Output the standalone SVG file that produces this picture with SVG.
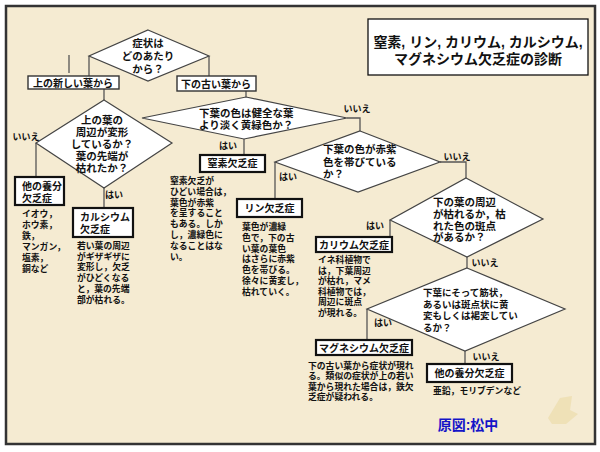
<svg xmlns="http://www.w3.org/2000/svg" width="600" height="452" viewBox="0 0 600 452">
<style>
text{font-family:"Liberation Sans","Noto Sans CJK JP",sans-serif;font-weight:700;fill:#111}
.d{fill:#fff;stroke:#444;stroke-width:1.2}
.q{font-size:10.5px}
.qs{font-size:9.5px}
.c{text-anchor:middle}
.b{fill:#fff;stroke:#111;stroke-width:2.2}
.b2{fill:#fff;stroke:#333;stroke-width:1.4}
.bl{font-size:10px}
.t{font-size:8.8px}
.y{font-size:9px}
.ln{fill:none;stroke:#555;stroke-width:1.3}
</style>
<rect x="0" y="0" width="600" height="452" fill="#fff"/>
<rect x="6" y="6" width="589" height="438" fill="#F5EBD2" stroke="#333" stroke-width="2.5"/>
<path d="M548 418 L560 398 L572 396 L570 410 L578 414 L566 424 L552 424 Z" fill="#E9D9A0" opacity="0.55"/>

<g id="connectors" class="ln">
<path d="M89 56 V76"/>
<path d="M69 55 V73"/>
<path d="M209 56 V76"/>
<path d="M104 89 V100"/>
<path d="M246 91 V97"/>
<path d="M36 143 V177"/>
<path d="M104 188 V208"/>
<path d="M244 139 V155"/>
<path d="M347 118 H360 V131"/>
<path d="M275 162 V199"/>
<path d="M440 162 H466 V178"/>
<path d="M390 220 V237"/>
<path d="M467 257 V268"/>
<path d="M367 309 V340"/>
<path d="M465 351 V364"/>
</g>

<g id="title">
<rect x="368" y="19" width="220" height="56" fill="#fff" stroke="#111" stroke-width="1.3"/>
<text class="c" x="478" y="47" font-size="14">窒素, リン, カリウム, カルシウム,<tspan x="478" y="64">マグネシウム欠乏症の診断</tspan></text>
</g>

<g id="q1">
<polygon class="d" points="148,30 209,56 148,81 89,56"/>
<text class="q c" x="148" y="47">症状は<tspan x="148" y="60">どのあたり</tspan><tspan x="148" y="73">から？</tspan></text>
</g>

<g id="upper">
<rect class="b2" x="28" y="76" width="91" height="13"/>
<text class="bl c" x="73" y="86.5">上の新しい葉から</text>
</g>

<g id="lower">
<rect class="b2" x="177" y="76" width="79" height="15"/>
<text class="bl c" x="216" y="87.5">下の古い葉から</text>
</g>

<g id="q2">
<polygon class="d" points="104,100 172,143 104,188 36,143"/>
<text class="q c" x="102" y="124">上の葉の<tspan x="102" y="136">周辺が変形</tspan><tspan x="102" y="148">しているか？</tspan><tspan x="102" y="160">葉の先端が</tspan><tspan x="102" y="172">枯れたか？</tspan></text>
<text class="y c" x="26" y="140">いいえ</text>
<text class="y c" x="114" y="198">はい</text>
</g>

<g id="other1">
<rect class="b" x="15" y="177" width="49" height="28"/>
<text class="bl" x="22" y="190">他の養分<tspan x="22" y="202">欠乏症</tspan></text>
<text class="t" x="22" y="217">イオウ，<tspan x="22" y="228">ホウ素，</tspan><tspan x="22" y="239">鉄，</tspan><tspan x="22" y="250">マンガン，</tspan><tspan x="22" y="261">塩素，</tspan><tspan x="22" y="272">銅など</tspan></text>
</g>

<g id="calcium">
<rect class="b" x="73" y="208" width="60" height="29"/>
<text class="bl" x="80" y="221">カルシウム<tspan x="80" y="233">欠乏症</tspan></text>
<text class="t" x="77" y="249">若い葉の周辺<tspan x="77" y="259.7">がギザギザに</tspan><tspan x="77" y="270.4">変形し，欠乏</tspan><tspan x="77" y="281.1">がひどくなる</tspan><tspan x="77" y="291.8">と，葉の先端</tspan><tspan x="77" y="302.5">部が枯れる。</tspan></text>
</g>

<g id="q3">
<polygon class="d" points="246,97 347,118 244,139 142,118"/>
<text class="q" x="199" y="117">下葉の色は健全な葉<tspan x="199" y="128.5">より淡く黄緑色か？</tspan></text>
<text class="y c" x="357" y="112">いいえ</text>
<text class="y c" x="228" y="149">はい</text>
</g>

<g id="nitrogen">
<rect class="b" x="200" y="155" width="65" height="17"/>
<text class="bl c" x="232.5" y="167">窒素欠乏症</text>
<text class="t" x="170" y="184">窒素欠乏が<tspan x="170" y="194.8">ひどい場合は，</tspan><tspan x="170" y="205.6">葉色が赤紫</tspan><tspan x="170" y="216.4">を呈すること</tspan><tspan x="170" y="227.2">もある。しか</tspan><tspan x="170" y="238">し，濃緑色に</tspan><tspan x="170" y="248.8">なることはな</tspan><tspan x="170" y="259.6">い。</tspan></text>
</g>

<g id="q4">
<polygon class="d" points="360,131 440,162 358,192 275,162"/>
<text class="q" x="323" y="153">下葉の色が赤紫<tspan x="323" y="166">色を帯びている</tspan><tspan x="323" y="178">か？</tspan></text>
<text class="y c" x="457" y="160">いいえ</text>
<text class="y c" x="288" y="180">はい</text>
</g>

<g id="phosphorus">
<rect class="b" x="237" y="199" width="65" height="18"/>
<text class="bl c" x="269.5" y="212">リン欠乏症</text>
<text class="t" x="242" y="230">葉色が濃緑<tspan x="242" y="240.8">色で，下の古</tspan><tspan x="242" y="251.6">い葉の葉色</tspan><tspan x="242" y="262.4">はさらに赤紫</tspan><tspan x="242" y="273.2">色を帯びる。</tspan><tspan x="242" y="284">徐々に黄変し，</tspan><tspan x="242" y="294.8">枯れていく。</tspan></text>
</g>

<g id="q5">
<polygon class="d" points="466,178 543,219 467,257 390,220"/>
<text class="q" x="433" y="206">下の葉の周辺<tspan x="433" y="217.8">が枯れるか，枯</tspan><tspan x="433" y="229.6">れた色の斑点</tspan><tspan x="433" y="241.4">があるか？</tspan></text>
<text class="y c" x="375" y="229">はい</text>
<text class="y c" x="485" y="266">いいえ</text>
</g>

<g id="potassium">
<rect class="b" x="316" y="237" width="76" height="15"/>
<text class="bl c" x="354" y="248.5">カリウム欠乏症</text>
<text class="t" x="318" y="263">イネ科植物で<tspan x="318" y="273.5">は，下葉周辺</tspan><tspan x="318" y="284">が枯れ，マメ</tspan><tspan x="318" y="294.5">科植物では，</tspan><tspan x="318" y="305">周辺に斑点</tspan><tspan x="318" y="315.5">が現れる。</tspan></text>
</g>

<g id="q6">
<polygon class="d" points="467,268 565,309 465,351 367,309"/>
<text class="qs" x="423" y="296">下葉にそって筋状，<tspan x="423" y="307.5">あるいは斑点状に黄</tspan><tspan x="423" y="319">変もしくは褐変してい</tspan><tspan x="423" y="330.5">るか？</tspan></text>
<text class="y c" x="383" y="326">はい</text>
<text class="y c" x="486" y="360">いいえ</text>
</g>

<g id="magnesium">
<rect class="b" x="316" y="340" width="96" height="15"/>
<text class="bl c" x="364" y="351.5">マグネシウム欠乏症</text>
<text class="t" x="308" y="369">下の古い葉から症状が現れ<tspan x="308" y="379.3">る。類似の症状が上の若い</tspan><tspan x="308" y="389.6">葉から現れた場合は，鉄欠</tspan><tspan x="308" y="399.9">乏症が疑われる。</tspan></text>
</g>

<g id="other2">
<rect class="b" x="427" y="364" width="85" height="18"/>
<text class="bl c" x="469.5" y="377">他の養分欠乏症</text>
<text class="t" x="433" y="394" font-size="8.2">亜鉛，モリブデンなど</text>
</g>

<g id="credit">
<text x="468" y="430" text-anchor="middle" font-size="14" style="fill:#1414C8">原図:松中</text>
</g>
</svg>
